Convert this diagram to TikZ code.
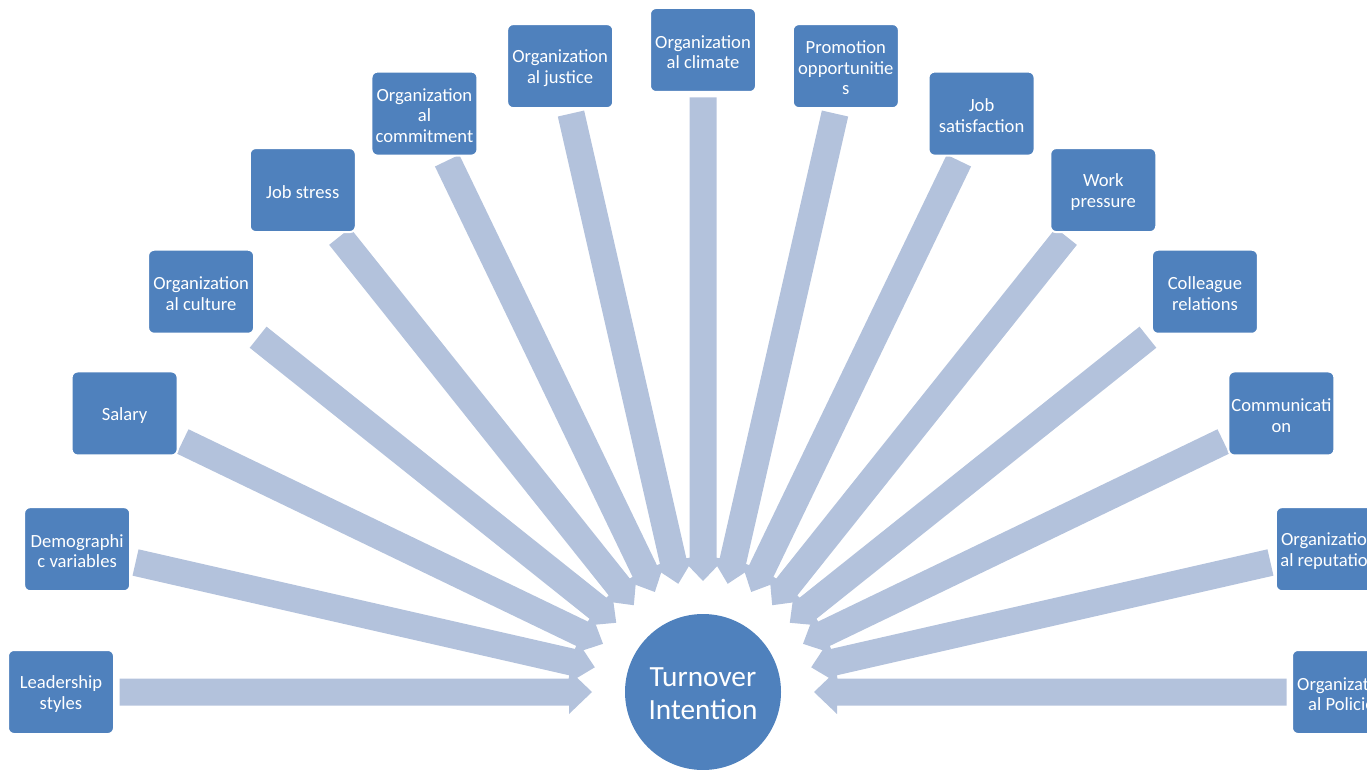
\documentclass[tikz,border=0pt]{standalone}
\usepackage{fontspec}
\setmainfont{Carlito}
\usetikzlibrary{calc,backgrounds}

\definecolor{boxblue}{RGB}{79,129,189}
\definecolor{arrowblue}{RGB}{179,194,220}

\tikzset{
  factor/.style={draw=white, line width=2pt, fill=boxblue, rounded corners=6pt,
    minimum width=106pt, minimum height=84pt, inner sep=0pt, outer sep=0pt},
  factortext/.style={text=white, align=center, inner sep=0pt,
    font=\fontsize{18.6}{20.5}\selectfont},
  hub/.style={circle, fill=boxblue, minimum size=156pt, inner sep=0pt},
  hubtext/.style={text=white, align=center, inner sep=0pt,
    font=\fontsize{29.3}{33}\selectfont},
  flow/.style={fill=arrowblue}
}

% Block arrow from the border of box #1 towards the hub circle
\newcommand\feedarrow[1]{%
  \pgfpointdiff{\pgfpointanchor{hub}{center}}{\pgfpointanchor{#1}{center}}%
  \pgfgetlastxy{\fdx}{\fdy}%
  \pgfmathsetmacro\fdist{veclen(\fdx,\fdy)}%
  \pgfmathsetmacro\fang{atan2(\fdy,\fdx)}%
  \pgfmathsetmacro\fstart{\fdist - min(53/max(abs(cos(\fang)),0.02), 42/max(abs(sin(\fang)),0.02)) - 5.5}%
  \begin{scope}[shift={(hub)}, rotate=\fang]
    \fill[flow] (\fstart,-13.5) -- (134,-13.5) -- (134,-22) -- (111,0)
      -- (134,22) -- (134,13.5) -- (\fstart,13.5) -- cycle;
  \end{scope}%
}

\begin{document}
\begin{tikzpicture}[x=1pt, y=1pt]
  \useasboundingbox (0,0) rectangle (1367,769);
  \clip (0,0) rectangle (1367,769);

  \node[hub] (hub) at (703,77) {};
  \node[hubtext] (hublabel) at ([yshift=-1.5pt]hub.center) {Turnover\\Intention};

  \foreach \k/\txt in {
    0/{Leadership\\styles},
    1/{Demographi\\c variables},
    2/{Salary},
    3/{Organization\\al culture},
    4/{Job stress},
    5/{Organization\\al\\commitment},
    6/{Organization\\al justice},
    7/{Organization\\al climate},
    8/{Promotion\\opportunitie\\s},
    9/{Job\\satisfaction},
    10/{Work\\pressure},
    11/{Colleague\\relations},
    12/{Communicati\\on},
    13/{Organization\\al reputation},
    14/{Organization\\al Policies}}
  {
    \node[factor] (f\k) at ($(hub)+({180-\k*180/14}:642)$) {};
    \node[factortext] (t\k) at ([yshift=-2pt]f\k.center) {\txt};
  }

  \begin{pgfonlayer}{background}
    \foreach \k in {0,...,14} { \feedarrow{f\k} }
  \end{pgfonlayer}
\end{tikzpicture}
\end{document}
